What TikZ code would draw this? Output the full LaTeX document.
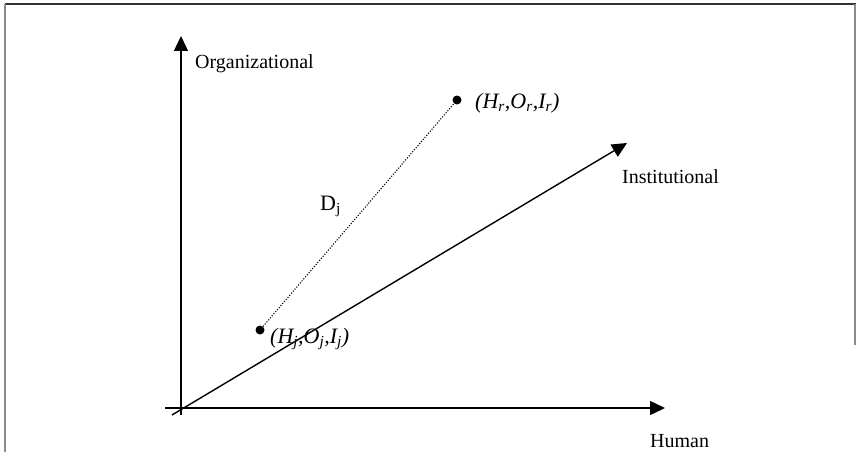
\documentclass[tikz,border=0pt]{standalone}
\usepackage{fontspec}
\setmainfont{Liberation Serif}
\usetikzlibrary{arrows.meta}
\tikzset{
  axis/.style={line width=1.4pt,-{Triangle[length=15pt,width=14pt]}},
  frameline/.style={line width=1.2pt,draw=black!80},
  sideline/.style={line width=1.2pt,draw=black!45},
  dotpt/.style={circle,fill=black,inner sep=0pt,minimum size=9pt},
  dotline/.style={line width=1.1pt,dash pattern=on 1.1pt off 1.6pt},
  lbl/.style={inner sep=0pt,anchor=base west,font=\fontsize{20}{23}\selectfont},
  tup/.style={inner sep=0pt,anchor=base west,font=\fontsize{22}{24}\selectfont\itshape},
}
\begin{document}
\begin{tikzpicture}[x=1pt,y=-1pt]
\useasboundingbox (0,0) rectangle (856,452);
% frame
\draw[frameline] (5,4) -- (856,4);
\draw[sideline] (5,4) -- (5,452);
\draw[sideline] (855,4) -- (855,345);
% axes
\coordinate (vb) at (181,415);
\coordinate (vt) at (181,36);
\coordinate (hb) at (165,408);
\coordinate (ht) at (665,408);
\coordinate (ib) at (172,415);
\coordinate (it) at (627,143);
\draw[axis] (vb) -- (vt);
\draw[axis] (hb) -- (ht);
\draw[axis] (ib) -- (it);
% points
\node[dotpt] (j) at (260,330) {};
\node[dotpt] (r) at (457,100) {};
\draw[dotline] (j) -- (r);
% labels
\node[lbl] (org) at (195,68) {Organizational};
\node[lbl] (ins) at (622,183) {Institutional};
\node[lbl] (hum) at (650,447) {Human};
\node[inner sep=0pt,anchor=base west,font=\fontsize{22}{24}\selectfont] (dj) at (320,210) {D\textsubscript{j}};
\node[tup] (rl) at (475,108) {(H\textsubscript{r},O\textsubscript{r},I\textsubscript{r})};
\node[tup] (jl) at (270,343) {(H\textsubscript{j},O\textsubscript{j},I\textsubscript{j})};
\end{tikzpicture}
\end{document}
